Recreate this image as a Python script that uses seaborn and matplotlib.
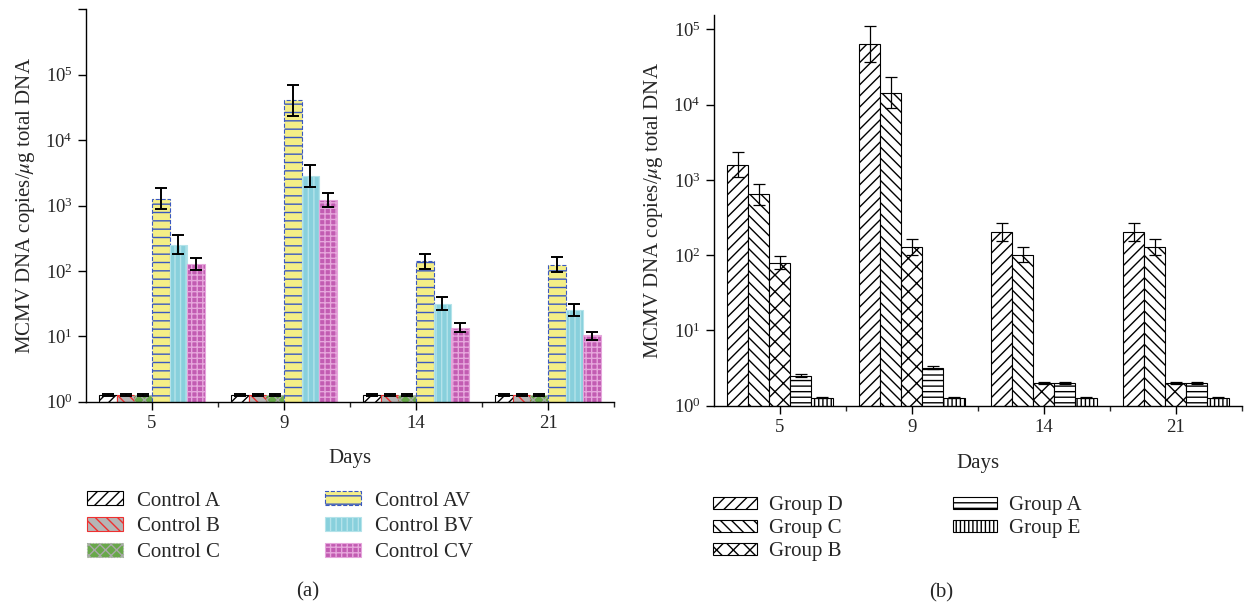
import numpy as np
import pandas as pd
import seaborn as sns
import matplotlib
matplotlib.use("Agg")
from matplotlib import pyplot as plt
from matplotlib.ticker import FixedLocator, NullLocator, LogFormatterMathtext

days = ["5", "9", "14", "21"]

# panel (a): control groups
controls = ["Control A", "Control B", "Control C", "Control AV", "Control BV", "Control CV"]
ctrl_a = [1.27, 1.27, 1.27, 1.27]
ctrl_b = [1.27, 1.27, 1.27, 1.27]
ctrl_c = [1.27, 1.27, 1.27, 1.27]
ctrl_av = [1260, 40400, 140, 122]
ctrl_bv = [247, 2860, 31.5, 24.9]
ctrl_cv = [126, 1210, 13.5, 10.3]
ctrl_lo = [[1.24] * 4, [1.24] * 4, [1.24] * 4,
           [880, 23500, 108, 96], [180, 1940, 25.5, 20.8], [102, 955, 11.6, 8.9]]
ctrl_hi = [[1.30] * 4, [1.30] * 4, [1.30] * 4,
           [1860, 70300, 184, 163], [351, 4170, 39.8, 30.8], [158, 1570, 15.9, 11.6]]

# panel (b): infected groups
groups = ["Group D", "Group C", "Group B", "Group A", "Group E"]
grp_d = [1600, 64200, 201, 201]
grp_c = [641, 14300, 100, 127]
grp_b = [79, 127, 2.02, 2.02]
grp_a = [2.5, 3.2, 2.0, 2.0]
grp_e = [1.28, 1.28, 1.28, 1.28]
grp_lo = [[1100, 37000, 154, 154], [463, 8900, 80, 102], [65, 100, 1.95, 1.95],
          [2.4, 3.05, 1.94, 1.94], [1.26] * 4]
grp_hi = [[2320, 111000, 264, 264], [880, 23000, 127, 162], [98, 162, 2.08, 2.08],
          [2.6, 3.35, 2.06, 2.06], [1.30] * 4]

# bar styles: face, edge/hatch colour, hatch, edge linestyle
ctrl_style = [("white", "black", "///", "-"),
              ("#b5b5b5", "#ee3030", "\\\\\\", "-"),
              ("#68a84a", "#a8a8a8", "xxx", ":"),
              ("#f4ee86", "#3a58c0", "--", "--"),
              ("#88d0dc", "#b4e3ea", "|||", "-"),
              ("#c25cb2", "#e6a6dc", "+++", "-")]
grp_style = [("white", "black", "///", "-"),
             ("white", "black", "\\\\\\", "-"),
             ("white", "black", "xx", "-"),
             ("white", "black", "---", "-"),
             ("white", "black", "||||", "-")]

sns.set_style("ticks")
plt.rcParams["font.family"] = ["Liberation Serif", "DejaVu Serif"]
plt.rcParams["mathtext.fontset"] = "stix"
plt.rcParams["hatch.linewidth"] = 1.0


def long_df(names, series):
    rows = []
    for name, vals in zip(names, series):
        for d, v in zip(days, vals):
            rows.append({"day": d, "group": name, "value": v})
    return pd.DataFrame(rows)


def draw_panel(ax, names, series, lo, hi, styles, ylim_top, yticks, cap, elw):
    df = long_df(names, series)
    ax.set_yscale("log")
    pal = {n: s[0] for n, s in zip(names, styles)}
    sns.barplot(data=df, x="day", y="value", hue="group", order=days, hue_order=names,
                palette=pal, saturation=1, errorbar=None, width=0.8, legend=False, ax=ax)
    bars = list(ax.containers)
    for cont, (face, edge, hatch, ls), vals, l, h in zip(bars, styles, series, lo, hi):
        xs = []
        for p in cont:
            p.set_facecolor(face)
            p.set_edgecolor(edge)
            p.set_hatch(hatch)
            p.set_linewidth(0.8)
            p.set_linestyle(ls)
            xs.append(p.get_x() + p.get_width() / 2)
        v = np.array(vals, float)
        err = [v - np.array(l, float), np.array(h, float) - v]
        ax.errorbar(xs, v, yerr=err, fmt="none", ecolor="black", elinewidth=elw,
                    capsize=cap, capthick=elw, zorder=5)
    ax.set_xlim(-0.5, 3.5)
    ax.set_ylim(1, ylim_top)
    ax.yaxis.set_major_locator(FixedLocator(yticks))
    ax.yaxis.set_minor_locator(NullLocator())
    fmt = LogFormatterMathtext()
    ax.set_yticklabels([fmt(t) if t <= 1e5 else "" for t in yticks])
    ax.xaxis.set_minor_locator(FixedLocator([0.5, 1.5, 2.5, 3.5]))
    ax.tick_params(axis="both", which="major", direction="out", length=5.5, width=1,
                   labelsize=13.5, pad=4, color="black")
    ax.tick_params(axis="x", which="minor", direction="out", length=3.5, width=1)
    sns.despine(ax=ax)
    for s in ("left", "bottom"):
        ax.spines[s].set_linewidth(1)
        ax.spines[s].set_color("black")
    ax.set_ylabel("MCMV DNA copies/$\\mu$g total DNA", fontsize=15)
    ax.set_xlabel("Days", fontsize=15)
    return bars


fig = plt.figure(figsize=(12.45, 6.05), dpi=100)
ax_a = fig.add_axes([0.0691, 0.336, 0.4241, 0.6486])
ax_b = fig.add_axes([0.5733, 0.3294, 0.4241, 0.6458])

bars_a = draw_panel(ax_a, controls, [ctrl_a, ctrl_b, ctrl_c, ctrl_av, ctrl_bv, ctrl_cv],
                    ctrl_lo, ctrl_hi, ctrl_style, 1e6, [1, 1e1, 1e2, 1e3, 1e4, 1e5, 1e6],
                    cap=4, elw=1.4)
bars_b = draw_panel(ax_b, groups, [grp_d, grp_c, grp_b, grp_a, grp_e],
                    grp_lo, grp_hi, grp_style, 1.55e5, [1, 1e1, 1e2, 1e3, 1e4, 1e5],
                    cap=4, elw=0.9)

ax_a.xaxis.set_label_coords(0.5, -0.1435)
ax_a.xaxis.label.set_va("center")
ax_a.yaxis.set_label_coords(-0.114, 0.5)
ax_a.yaxis.label.set_va("center")
ax_b.xaxis.set_label_coords(0.5, -0.1467)
ax_b.xaxis.label.set_va("center")
ax_b.yaxis.set_label_coords(-0.115, 0.5)
ax_b.yaxis.label.set_va("center")

fig.legend(handles=bars_a, labels=controls, loc="upper left", bbox_to_anchor=(0.0699, 0.188),
           ncol=2, frameon=False, fontsize=15, borderpad=0, borderaxespad=0,
           handlelength=1.73, handleheight=0.67, handletextpad=0.67,
           columnspacing=5.05, labelspacing=0.3)
fig.legend(handles=bars_b, labels=groups, loc="upper left", bbox_to_anchor=(0.5727, 0.180),
           ncol=2, frameon=False, fontsize=15, borderpad=0, borderaxespad=0,
           handlelength=2.1, handleheight=0.53, handletextpad=0.58,
           columnspacing=5.3, labelspacing=0.2)

fig.text(0.2474, 0.0215, "(a)", ha="center", va="center", fontsize=15)
fig.text(0.7558, 0.0198, "(b)", ha="center", va="center", fontsize=15)

fig.savefig("out.png", dpi=100)
